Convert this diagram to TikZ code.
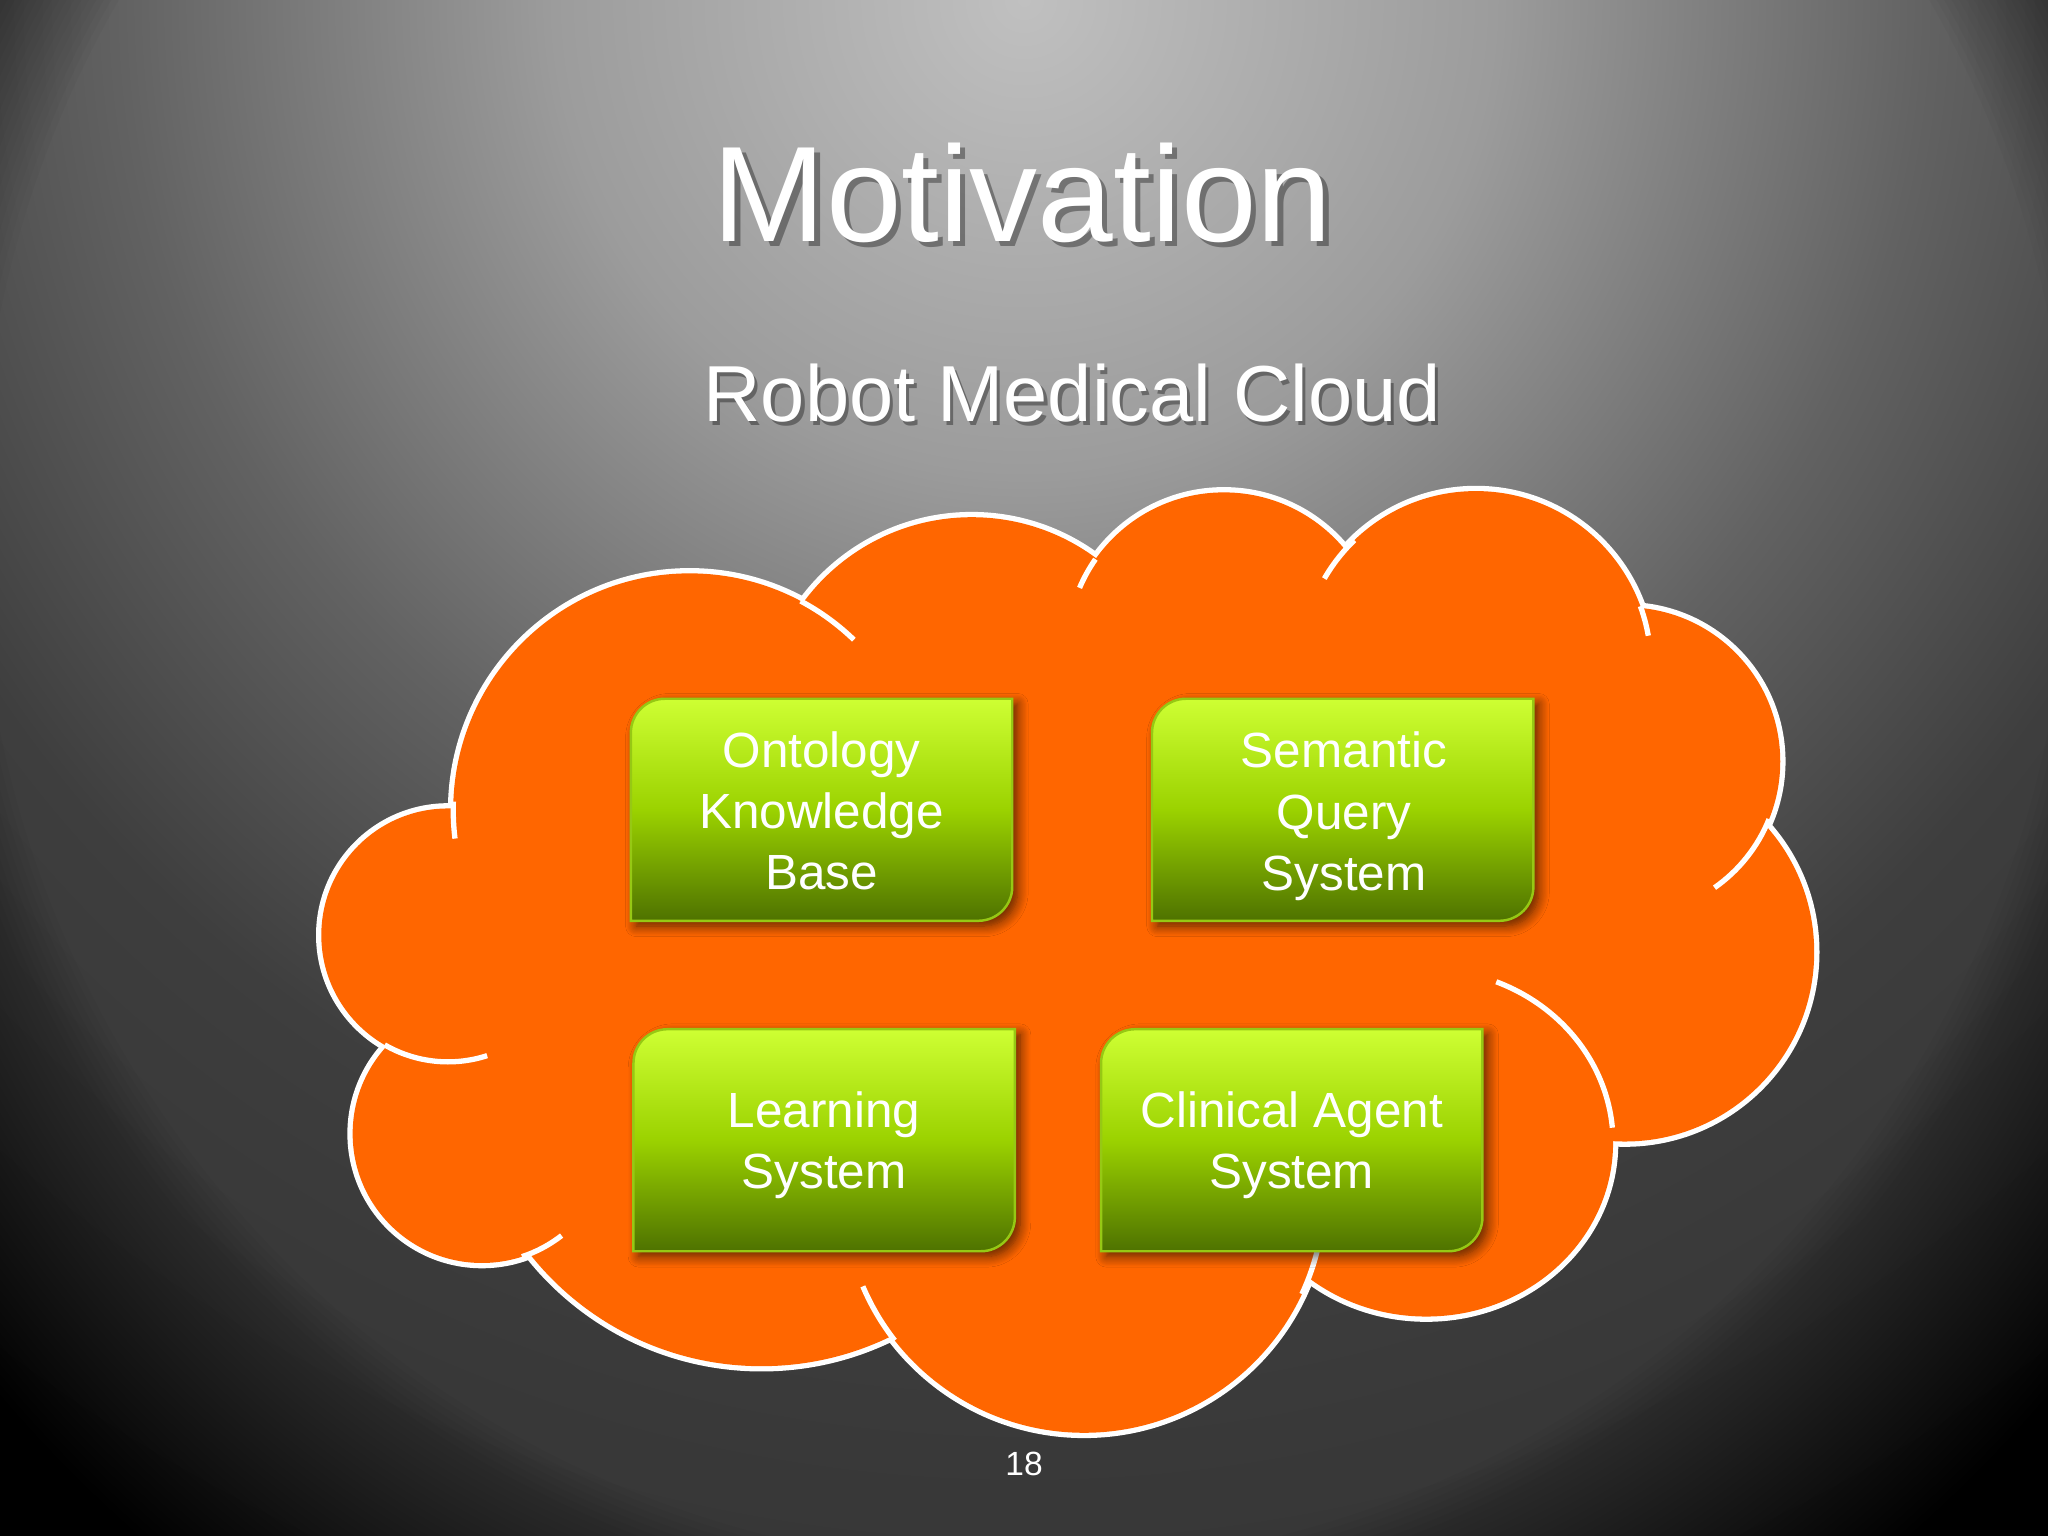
\documentclass[tikz,border=0pt]{standalone}
\usepackage{fontspec}
\setmainfont{Liberation Sans}
\usetikzlibrary{shadows.blur}

\definecolor{bgA}{RGB}{192,192,192}
\definecolor{bgB}{RGB}{156,156,156}
\definecolor{bgC}{RGB}{98,98,98}
\definecolor{bgD}{RGB}{62,62,62}
\definecolor{bgE}{RGB}{56,56,56}
\definecolor{bgF}{RGB}{50,50,50}
\definecolor{cloudorange}{RGB}{255,102,0}
\definecolor{boxtop}{RGB}{206,255,51}
\definecolor{boxmid}{RGB}{155,210,0}
\definecolor{boxbot}{RGB}{78,114,0}
\definecolor{boxedge}{RGB}{150,200,20}

\pgfdeclareradialshading{bgshade}{\pgfpointorigin}{color(0bp)=(bgA); color(6bp)=(bgB); color(11.5bp)=(bgC); color(15.85bp)=(bgD); color(19.15bp)=(bgE); color(25bp)=(bgF); color(50bp)=(bgF)}

\newcommand{\greenbox}[4]{%
  \path[boxshape] (#1,#2) -- (#1,#4-26) arc[start angle=180,end angle=90,radius=26]
    -- (#3,#4) -- (#3,#2+26) arc[start angle=0,end angle=-90,radius=26] -- cycle;}

\begin{document}
\begin{tikzpicture}[x=0.013cm, y=0.013cm,
  cloudline/.style={draw=white, line width=1.5pt},
  boxshape/.style={top color=boxtop, bottom color=boxbot, middle color=boxmid,
    draw=boxedge, line width=0.7pt,
    blur shadow={shadow xshift=1.5pt, shadow yshift=-1.5pt, shadow blur radius=3pt, shadow blur steps=10, shadow opacity=65}},
  boxtext/.style={text=white, align=center, font=\fontsize{14}{17.3}\selectfont, inner sep=0pt},
  titletext/.style={anchor=base, font=\fontsize{38.5}{46}\selectfont},
  subtext/.style={anchor=base, font=\fontsize{22.5}{27}\selectfont}]
\useasboundingbox (0,0) rectangle (1568,1176);

% background
\begin{scope}
  \clip (0,0) rectangle (1568,1176);
  \shade[shading=bgshade] (784,1176) circle[radius=1500];
  \foreach \r in {800,805,...,1095}
    \fill[black, opacity=0.025, even odd rule] (-10,-10) rectangle (1578,1186) (784,776) circle[radius=\r];
\end{scope}

% cloud: outline (outer half) then fill
\foreach \cx/\cy/\rx/\ry in {528/556/181/181, 744/620/160/160, 937/679/120/120, 1130/666/134/134,
    1245/593/118/118, 1244/447/145/145, 1092/301/143/133, 830/263/184/184, 583/356/226/226,
    369/308/99/99, 343/460/97/97}
  \draw[white, line width=3pt] (\cx,\cy) circle[x radius=\rx, y radius=\ry];
\foreach \cx/\cy/\rx/\ry in {528/556/181/181, 744/620/160/160, 937/679/120/120, 1130/666/134/134,
    1245/593/118/118, 1244/447/145/145, 1092/301/143/133, 830/263/184/184, 583/356/226/226,
    369/308/99/99, 343/460/97/97}
  \fill[cloudorange] (\cx,\cy) circle[x radius=\rx, y radius=\ry];
\fill[cloudorange] (528,556) -- (744,620) -- (937,679) -- (1130,666) -- (1245,593) -- (1244,447)
  -- (1092,301) -- (830,263) -- (583,356) -- (369,308) -- (343,460) -- cycle;

% inner arc ticks of the cloud
\draw[cloudline] (528,556) ++(178:181) arc[start angle=178, end angle=187, radius=181];
\draw[cloudline] (528,556) ++(62:181) arc[start angle=62, end angle=46, radius=181];
\draw[cloudline] (937,679) ++(157:120) arc[start angle=157, end angle=145, radius=120];
\draw[cloudline] (1130,666) ++(150:134) arc[start angle=150, end angle=134, radius=134];
\draw[cloudline] (1130,666) ++(20:134) arc[start angle=20, end angle=10, radius=134];
\draw[cloudline] (1245,593) ++(-22:118) arc[start angle=-22, end angle=-55, radius=118];
\draw[cloudline] (1092,301) ++(68:143 and 133) arc[start angle=68, end angle=5, x radius=143, y radius=133];
\draw[cloudline] (830,263) ++(-12:184) arc[start angle=-12, end angle=-25, radius=184];
\draw[cloudline] (830,263) ++(203:184) arc[start angle=203, end angle=218, radius=184];
\draw[cloudline] (369,308) ++(-72:99) arc[start angle=-72, end angle=-52, radius=99];
\draw[cloudline] (343,460) ++(240:97) arc[start angle=240, end angle=288, radius=97];

% green boxes
\greenbox{483}{471}{775}{641}
\greenbox{882}{471}{1174}{641}
\greenbox{485}{218}{777}{388}
\greenbox{843}{218}{1135}{388}

\node[boxtext] (ontology) at (629,555) {Ontology\\Knowledge\\Base};
\node[boxtext] (semantic) at (1029,551) {Semantic\\Query\\System};
\node[boxtext] (learning) at (631,299) {Learning\\System};
\node[boxtext] (clinical) at (989,299) {Clinical Agent\\System};

% titles
\node[titletext, text=black, opacity=0.35] (titleshadow) at (787,987) {Motivation};
\node[titletext, text=white] (title) at (783,991) {Motivation};
\node[subtext, text=black, opacity=0.35] (subshadow) at (823.5,850.5) {Robot Medical Cloud};
\node[subtext, text=white] (subtitle) at (821,853) {Robot Medical Cloud};

\node[anchor=base, text=white, font=\fontsize{9.5}{11}\selectfont] (pagenum) at (784,46) {18};
\end{tikzpicture}
\end{document}
